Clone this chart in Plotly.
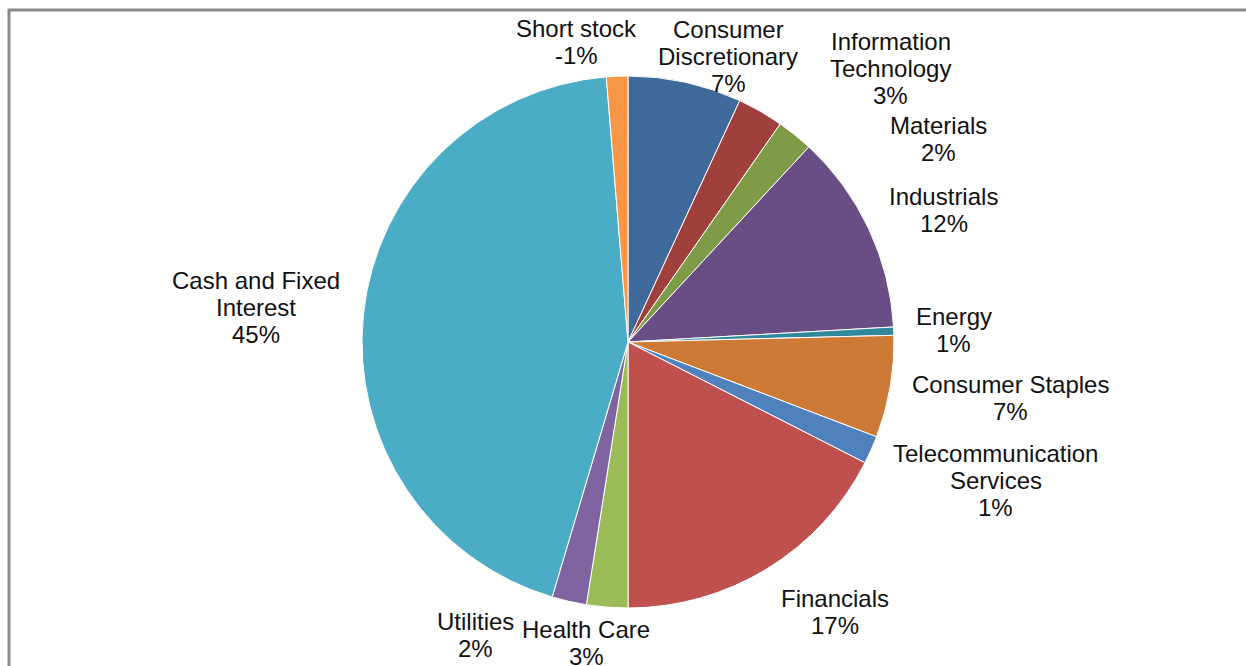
import math
import plotly.graph_objects as go

categories = ["Consumer Discretionary", "Information Technology", "Materials", "Industrials",
              "Energy", "Consumer Staples", "Telecommunication Services", "Financials",
              "Health Care", "Utilities", "Cash and Fixed Interest", "Short stock"]
label_lines = [["Consumer", "Discretionary"], ["Information", "Technology"], ["Materials"], ["Industrials"],
               ["Energy"], ["Consumer Staples"], ["Telecommunication", "Services"], ["Financials"],
               ["Health Care"], ["Utilities"], ["Cash and Fixed", "Interest"], ["Short stock"]]
values = [6.9, 2.8, 2.2, 12.2, 0.5, 6.2, 1.7, 17.5, 2.5, 2.1, 44.1, 1.3]
pct_labels = ["7%", "3%", "2%", "12%", "1%", "7%", "1%", "17%", "3%", "2%", "45%", "-1%"]
colors = ["#3F6A9B", "#A0403D", "#7F9B47", "#684E84", "#31879C", "#CD7A37",
          "#4F81BD", "#C0504D", "#9BBB59", "#8064A2", "#4BACC6", "#F79646"]

# label placement style (angular shift from slice middle, in degrees; distance from centre in px)
label_angle_shift = [6.9, 14.0, 18.0, 2.5, 0.2, -1.4, -3.3, -6.0, 3.4, 14.8, -0.7, -7.5]
label_dist = [303, 379, 371, 342, 326, 387, 393, 340, 304, 330, 374, 304]

W, H = 1246, 666
cx, cy, r = 628, 342, 266
FONT = "Liberation Sans, Arial, sans-serif"
FS = 24
LINE_H = 27

fig = go.Figure(go.Pie(
    labels=categories,
    values=values,
    textinfo="none",
    sort=False,
    direction="clockwise",
    rotation=0,
    marker=dict(colors=colors, line=dict(color="white", width=1)),
    domain=dict(x=[(cx - r) / W, (cx + r) / W], y=[1 - (cy + r) / H, 1 - (cy - r) / H]),
    showlegend=False,
    hoverinfo="label+value",
))

annotations = []
total = sum(values)
cum = 0.0
for i, v in enumerate(values):
    mid = (cum + v / 2) / total * 360.0
    cum += v
    ang = math.radians(mid + label_angle_shift[i])
    lx = cx + label_dist[i] * math.sin(ang)
    ly = cy - label_dist[i] * math.cos(ang)
    lines = label_lines[i] + [pct_labels[i]]
    n = len(lines)
    for j, t in enumerate(lines):
        yy = ly + (j - (n - 1) / 2) * LINE_H
        annotations.append(dict(
            x=lx / W, y=1 - yy / H, xref="paper", yref="paper",
            text=t, showarrow=False, xanchor="center", yanchor="middle",
            font=dict(family=FONT, size=FS, color="#111111"),
        ))

fig.update_layout(
    width=W, height=H,
    margin=dict(l=0, r=0, t=0, b=0, autoexpand=False),
    paper_bgcolor="white",
    plot_bgcolor="white",
    annotations=annotations,
    shapes=[
        dict(type="line", xref="paper", yref="paper", x0=8 / W, x1=1, y0=1 - 10 / H, y1=1 - 10 / H,
             line=dict(color="#8A8A8A", width=3)),
        dict(type="line", xref="paper", yref="paper", x0=9 / W, x1=9 / W, y0=0, y1=1 - 9 / H,
             line=dict(color="#8A8A8A", width=3)),
    ],
)

fig.write_html("out.html")
